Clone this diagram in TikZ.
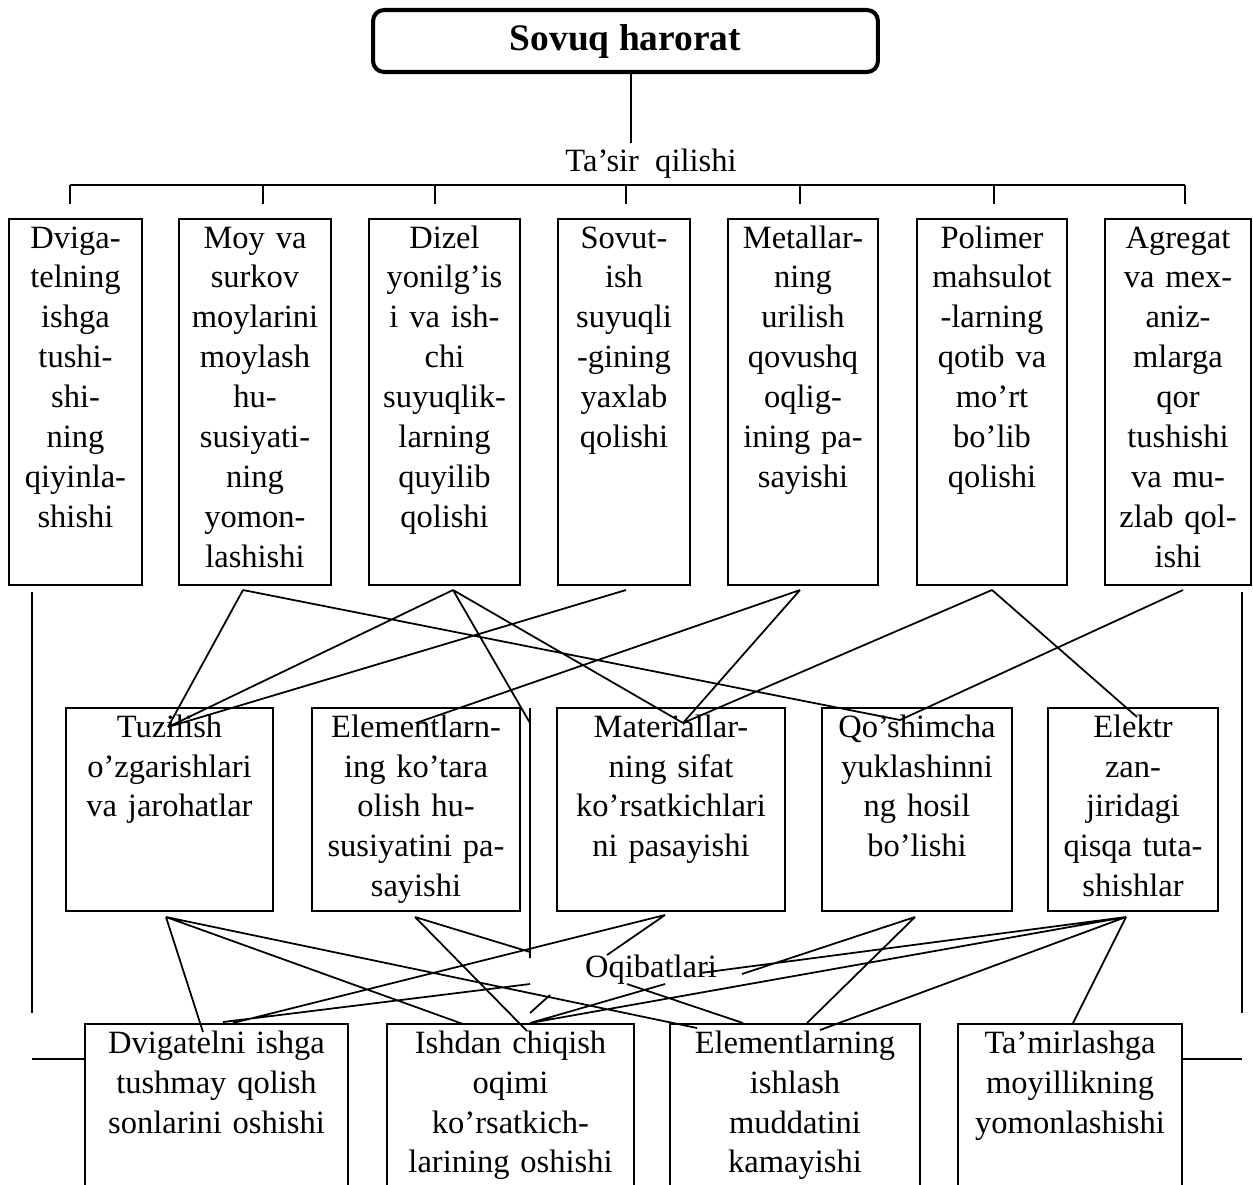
\documentclass[tikz,border=0pt]{standalone}
\usepackage{fontspec}
\setmainfont{Liberation Serif}
\newcommand\bodysize{\fontsize{18.5}{22.76}\selectfont}

\begin{document}
\begin{tikzpicture}[
  x=0.02cm, y=-0.02cm,
  cell/.style={draw, line width=1.2pt, align=center, inner sep=0pt,
    font=\bodysize, text height=0.58cm, anchor=base},
  topcell/.style={cell, text depth=6.74cm},
  midcell/.style={cell, text depth=3.48cm},
  botcell/.style={cell, text depth=2.8cm},
  conn/.style={line width=1pt}
  ]
  \useasboundingbox (0,0) rectangle (1253,1184);

  \node[draw, line width=2.3pt, rounded corners=0.22cm, minimum width=10.1cm,
    minimum height=1.24cm, font=\fontsize{21.3}{25}\selectfont\bfseries]
    (sv) at (625.5,41) {Sovuq harorat};
  \node[font=\bodysize, anchor=base] (tq) at (651,171) {Ta’sir\ \ qilishi};

  % ta'sir qilishi
  \node[topcell, text width=2.66cm] (t1) at (75.5,248)
    {Dviga-\\telning\\ishga\\tushi-\\shi-\\ning\\qiyinla-\\shishi};
  \node[topcell, text width=3.04cm] (t2) at (255,248)
    {Moy va\\surkov\\moylarini\\moylash\\hu-\\susiyati-\\ning\\yomon-\\lashishi};
  \node[topcell, text width=3.02cm] (t3) at (444.5,248)
    {Dizel\\yonilg’is\\i va ish-\\chi\\suyuqlik-\\larning\\quyilib\\qolishi};
  \node[topcell, text width=2.64cm] (t4) at (624,248)
    {Sovut-\\ish\\suyuqli\\-gining\\yaxlab\\qolishi};
  \node[topcell, text width=3cm] (t5) at (803,248)
    {Metallar-\\ning\\urilish\\qovushq\\oqlig-\\ining pa-\\sayishi};
  \node[topcell, text width=3cm] (t6) at (992,248)
    {Polimer\\mahsulot\\-larning\\qotib va\\mo’rt\\bo’lib\\qolishi};
  \node[topcell, text width=2.92cm] (t7) at (1178,248)
    {Agregat\\va mex-\\aniz-\\mlarga\\qor\\tushishi\\va mu-\\zlab qol-\\ishi};

  % middle row
  \node[midcell, text width=4.14cm] (m1) at (169.5,737)
    {Tuzilish\\o’zgarishlari\\va jarohatlar};
  \node[midcell, text width=4.16cm] (m2) at (416,737)
    {Elementlarn-\\ing ko’tara\\olish hu-\\susiyatini pa-\\sayishi};
  \node[midcell, text width=4.56cm] (m3) at (671,737)
    {Materiallar-\\ning sifat\\ko’rsatkichlari\\ni pasayishi};
  \node[midcell, text width=3.8cm] (m4) at (917,737)
    {Qo’shimcha\\yuklashinni\\ng hosil\\bo’lishi};
  \node[midcell, text width=3.4cm] (m5) at (1133,737)
    {Elektr\\zan-\\jiridagi\\qisqa tuta-\\shishlar};

  \node[font=\bodysize, anchor=base] (oq) at (651,977) {Oqibatlari};

  % bottom row
  \node[botcell, text width=5.26cm] (b1) at (216.5,1053)
    {Dvigatelni ishga\\tushmay qolish\\sonlarini oshishi};
  \node[botcell, text width=4.94cm] (b2) at (510.5,1053)
    {Ishdan chiqish\\oqimi\\ko’rsatkich-\\larining oshishi};
  \node[botcell, text width=5cm] (b3) at (795,1053)
    {Elementlarning\\ishlash\\muddatini\\kamayishi};
  \node[botcell, text width=4.48cm] (b4) at (1070,1053)
    {Ta’mirlashga\\moyillikning\\yomonlashishi};

  % stem and bar
  \coordinate (st) at (631,143);
  \coordinate (bl) at (70,185);
  \coordinate (br) at (1185,185);
  \path[draw,conn] (st |- sv.south) -- (st);
  \path[draw,line width=1.2pt] (bl) -- (br);
  \foreach \x in {70,263,435,626,800,994,1185}
    \draw[line width=1.2pt] (\x,185) -- ++(0,19);

  % ends of the connectors
  \coordinate (t2d) at (243,590);
  \coordinate (t3d) at (453,590);
  \coordinate (t4d) at (626,590);
  \coordinate (t5d) at (800,590);
  \coordinate (t6d) at (992,590);
  \coordinate (t7d) at (1183,590);
  \coordinate (m1u) at (168,727);
  \coordinate (m2u) at (416,723);
  \coordinate (m3u) at (683,723);
  \coordinate (m4u) at (900,720);
  \coordinate (m5u) at (1137,717);
  \coordinate (vt) at (530,708);
  \coordinate (vj) at (530,723);
  \coordinate (vb) at (530,958);
  \coordinate (m1d) at (166,917);
  \coordinate (m2d) at (415,917);
  \coordinate (m3d) at (665,915);
  \coordinate (m4d) at (915,917);
  \coordinate (m5d) at (1126,917);
  \coordinate (b1a) at (203,1032);
  \coordinate (b1b) at (223,1022);
  \coordinate (b1c) at (233,1023);
  \coordinate (b2a) at (463,1024);
  \coordinate (b2b) at (527,1031);
  \coordinate (b2c) at (530,1023);
  \coordinate (b3a) at (697,1028);
  \coordinate (b3b) at (743,1023);
  \coordinate (b3c) at (807,1023);
  \coordinate (b3d) at (820,1030);
  \coordinate (b4a) at (1073,1023);
  \coordinate (o1) at (530,952);
  \coordinate (o2) at (607,955);
  \coordinate (o3) at (530,984);
  \coordinate (o4) at (665,984);
  \coordinate (o5) at (530,1013);
  \coordinate (o6) at (550,995);
  \coordinate (o7) at (627,984);
  \coordinate (o8) at (742,974);
  \coordinate (o9) at (700,973);
  \coordinate (lt) at (32,592);
  \coordinate (lb) at (32,1013);
  \coordinate (ls) at (32,1059);
  \coordinate (rt) at (1242,592);
  \coordinate (rb) at (1242,1013);
  \coordinate (rs) at (1242,1059);

  \path[draw,conn]
  (t2d) -- (m1u)
  (t2d) -- (m4u)
  (t3d) -- (m1u)
  (t3d) -- (vj)
  (t3d) -- (m3u)
  (t4d) -- (m1u)
  (t5d) -- (m2u)
  (t5d) -- (m3u)
  (t6d) -- (m3u)
  (t6d) -- (m5u)
  (t7d) -- (m4u)
  (vt)  -- (vb)
  ;

  \path[draw,conn]
  (m1d) -- (b1a)
  (m1d) -- (b2a)
  (m1d) -- (b3a)
  (m2d) -- (o1)
  (m2d) -- (b2b)
  (m3d) -- (o2)
  (m3d) -- (b1c)
  (b1b) -- (o3)
  (b2c) -- (o4)
  (o5)  -- (o6)
  (o7)  -- (b3b)
  (m4d) -- (o8)
  (m4d) -- (b3c)
  (m5d) -- (o9)
  (m5d) -- (b2c)
  (m5d) -- (b3d)
  (m5d) -- (b4a)
  ;

  \path[draw,conn]
  (lt) -- (lb)
  (ls) -- (ls -| b1.west)
  (rt) -- (rb)
  (rs) -- (rs -| b4.east)
  ;
\end{tikzpicture}
\end{document}
